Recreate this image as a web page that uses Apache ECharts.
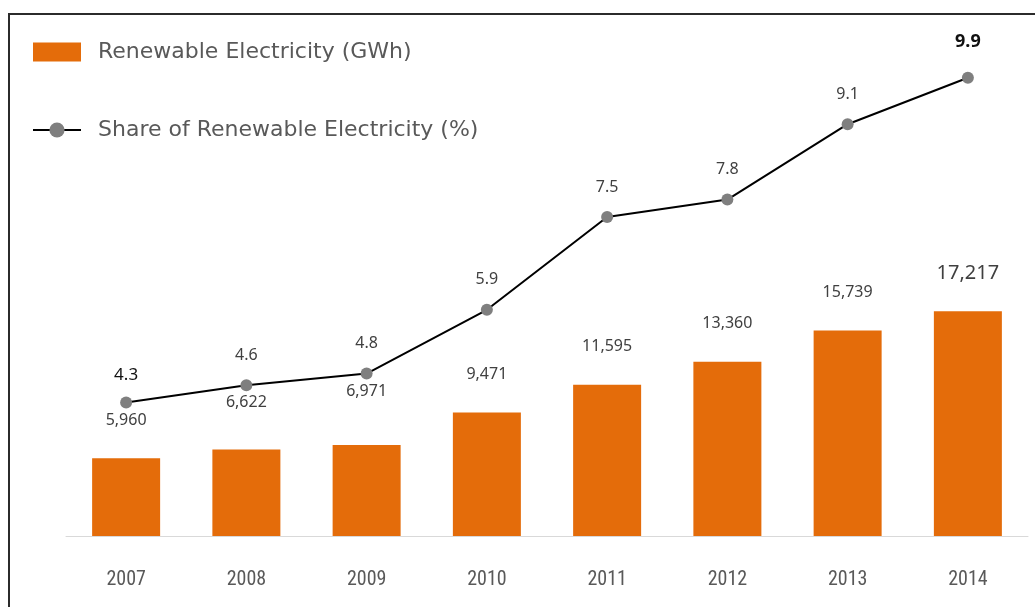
<!DOCTYPE html>
<html>
<head>
<meta charset="utf-8">
<script src="https://cdn.jsdelivr.net/npm/echarts@6/dist/echarts.min.js"></script>
<style>
  html, body { margin: 0; padding: 0; background: #fff; }
  #chart { width: 1035px; height: 607px; position: relative; }
  #frame { position: absolute; left: 8px; top: 13px; width: 1040px; height: 600px;
           border-top: 2px solid #2b2b2b; border-left: 2px solid #2b2b2b; pointer-events: none; }
</style>
</head>
<body>
<div id="chart"></div>
<div id="frame"></div>
<script>
const years = ['2007', '2008', '2009', '2010', '2011', '2012', '2013', '2014'];
const electricityGWh = [5960, 6622, 6971, 9471, 11595, 13360, 15739, 17217];
const sharePercent = [4.3, 4.6, 4.8, 5.9, 7.5, 7.8, 9.1, 9.9];
const barSeriesName = 'Renewable Electricity (GWh)';
const lineSeriesName = 'Share of Renewable Electricity (%)';

const barLabelDistance = [30, 39, 46, 30, 30, 30, 30, 28];
const barData = electricityGWh.map((v, i) => {
  const item = { value: v, label: { distance: barLabelDistance[i] } };
  if (i === electricityGWh.length - 1) item.label.fontSize = 20;
  return item;
});
const lineData = sharePercent.map((v, i) => {
  const item = { value: v };
  if (i === 0) item.label = { fontSize: 17, color: '#111', distance: 13 };
  if (i === sharePercent.length - 1) item.label = { fontSize: 18, color: '#111', fontWeight: 'bold', distance: 21 };
  return item;
});

const chart = echarts.init(document.getElementById('chart'), null, { renderer: 'canvas' });
chart.setOption({
  animation: false,
  backgroundColor: '#fff',
  textStyle: { fontFamily: 'Noto Sans, sans-serif' },
  legend: {
    orient: 'vertical',
    left: 27,
    top: 36,
    itemWidth: 48,
    itemHeight: 19,
    itemGap: 56,
    textStyle: { fontSize: 22, color: '#595959', padding: [0, 0, 0, 12], lineHeight: 19,
                 fontFamily: 'DejaVu Sans, sans-serif' },
    data: [
      { name: barSeriesName, icon: 'rect' },
      { name: lineSeriesName }
    ]
  },
  grid: { left: 66, right: 7, top: 14, bottom: 71 },
  xAxis: {
    type: 'category',
    data: years,
    axisLine: { lineStyle: { color: '#D9D9D9', width: 1 } },
    axisTick: { show: false },
    axisLabel: { color: '#595959', fontSize: 20, margin: 34,
                 fontFamily: 'Liberation Sans Narrow, Roboto Condensed, DejaVu Sans Condensed, sans-serif' }
  },
  yAxis: [
    { type: 'value', min: 0, max: 40000, show: false, splitLine: { show: false } },
    { type: 'value', min: 2, max: 11, show: false, splitLine: { show: false } }
  ],
  series: [
    {
      name: barSeriesName,
      type: 'bar',
      yAxisIndex: 0,
      barWidth: 68,
      itemStyle: { color: '#E46C0A' },
      label: {
        show: true, position: 'top', distance: 30,
        color: '#404040', fontSize: 16,
        formatter: p => p.value.toLocaleString('en-US')
      },
      data: barData
    },
    {
      name: lineSeriesName,
      type: 'line',
      yAxisIndex: 1,
      symbol: 'circle',
      symbolSize: 12,
      itemStyle: { color: '#7F7F7F' },
      lineStyle: { color: '#000', width: 2 },
      label: { show: true, position: 'top', distance: 16, color: '#404040', fontSize: 16 },
      data: lineData,
      z: 3
    }
  ]
});
</script>
</body>
</html>
